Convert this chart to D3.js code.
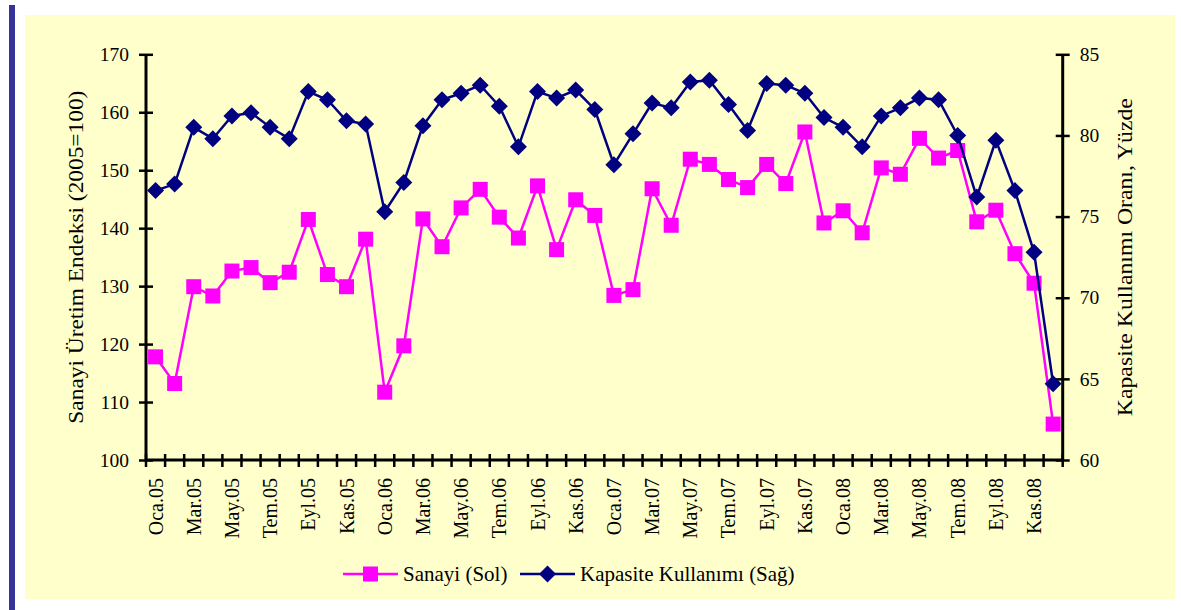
<!DOCTYPE html>
<html>
<head>
<meta charset="utf-8">
<script src="https://cdn.jsdelivr.net/npm/d3@7"></script>
<style>
  html, body { margin: 0; padding: 0; background: #fff; }
  svg text { font-family: "Liberation Serif", "Times New Roman", Times, "DejaVu Serif", serif; fill: #000; }
</style>
</head>
<body>
<div id="chart"></div>
<script>
// Aylar: Oca.05 .. Ara.08
var monthNames = ["Oca", "Şub", "Mar", "Nis", "May", "Haz", "Tem", "Ağu", "Eyl", "Eki", "Kas", "Ara"],
    years      = ["05", "06", "07", "08"];

var months = [];
years.forEach(function(y) {
  monthNames.forEach(function(m) { months.push(m + "." + y); });
});

// Sanayi üretim endeksi (sol eksen)
var sanayi = [
  117.8, 113.2, 129.9, 128.3, 132.6, 133.2, 130.6, 132.4, 141.5, 132.0, 129.9, 138.1,
  111.7, 119.7, 141.6, 136.8, 143.5, 146.7, 141.9, 138.3, 147.3, 136.3, 144.9, 142.2,
  128.4, 129.4, 146.8, 140.5, 151.9, 151.0, 148.4, 147.0, 151.0, 147.7, 156.6, 140.9,
  143.0, 139.2, 150.4, 149.3, 155.5, 152.1, 153.4, 141.1, 143.1, 135.6, 130.5, 106.2
];

// Kapasite kullanım oranı (sağ eksen)
var kapasite = [
  76.6, 77.0, 80.5, 79.8, 81.2, 81.4, 80.5, 79.8, 82.7, 82.2, 80.9, 80.7,
  75.3, 77.1, 80.6, 82.2, 82.6, 83.1, 81.8, 79.3, 82.7, 82.3, 82.8, 81.6,
  78.2, 80.1, 82.0, 81.7, 83.3, 83.4, 81.9, 80.3, 83.2, 83.1, 82.6, 81.1,
  80.5, 79.3, 81.2, 81.7, 82.3, 82.2, 80.0, 76.2, 79.7, 76.6, 72.8, 64.7
];

var leftTicks  = [100, 110, 120, 130, 140, 150, 160, 170],
    rightTicks = [60, 65, 70, 75, 80, 85];

var serif = "'Liberation Serif', 'Times New Roman', Times, 'DejaVu Serif', serif";

var width  = 1181,
    height = 610,
    plot   = {"left": 146, "right": 1062.7, "top": 54.3, "bottom": 460};

var svg = d3.select("#chart")
            .append("svg")
              .attr("width", width)
              .attr("height", height)
              .attr("font-family", serif);

// Arka plan ve soldaki mavi şerit
svg.append("rect")
     .attr("x", 9).attr("y", 5)
     .attr("width", 6).attr("height", height - 5)
     .style("fill", "#333399");
svg.append("rect")
     .attr("x", 25).attr("y", 15)
     .attr("width", 1150).attr("height", 584)
     .style("fill", "#FFFFCC");

var x = d3.scaleBand()
          .domain(months)
          .range([plot.left, plot.right]);

var yLeft = d3.scaleLinear()
              .domain([100, 170])
              .range([plot.bottom, plot.top]);

var yRight = d3.scaleLinear()
               .domain([60, 85])
               .range([plot.bottom, plot.top]);

var cx = function(d, i) { return x(months[i]) + x.bandwidth() / 2; };

// Eksenler
var leftAxis = svg.append("g")
                  .attr("transform", "translate(" + plot.left + ",0)")
                  .call(d3.axisLeft(yLeft).tickValues(leftTicks).tickSize(7).tickPadding(10));

var rightAxis = svg.append("g")
                   .attr("transform", "translate(" + plot.right + ",0)")
                   .call(d3.axisRight(yRight).tickValues(rightTicks).tickSize(7).tickPadding(10));

[leftAxis, rightAxis].forEach(function(g) {
  g.attr("font-family", serif).attr("font-size", null);
  g.select(".domain").attr("d", "M0," + plot.top + "V" + plot.bottom)
   .style("stroke", "#000").style("stroke-width", 3);
  g.selectAll(".tick line")
   .attr("x1", function() { return -d3.select(this).attr("x2"); })
   .style("stroke", "#000").style("stroke-width", 2.5);
  g.selectAll(".tick text")
   .style("font-size", "19.5px");
});

// X ekseni: çizgiler kategori sınırlarında
var xAxis = svg.append("g");
xAxis.append("line")
       .attr("x1", plot.left).attr("x2", plot.right)
       .attr("y1", plot.bottom).attr("y2", plot.bottom)
       .style("stroke", "#000").style("stroke-width", 3);

xAxis.selectAll("line.tick")
     .data(months.concat(["end"]))
     .enter()
     .append("line")
       .attr("class", "tick")
       .attr("x1", function(d, i) { return i < months.length ? x(d) : plot.right; })
       .attr("x2", function(d, i) { return i < months.length ? x(d) : plot.right; })
       .attr("y1", plot.bottom - 6)
       .attr("y2", plot.bottom + 7)
       .style("stroke", "#000").style("stroke-width", 2.5);

xAxis.selectAll("text")
     .data(months.filter(function(d, i) { return i % 2 === 0; }))
     .enter()
     .append("text")
       .attr("transform", function(d) {
         return "translate(" + (x(d) + x.bandwidth() / 2 + 7) + "," + (plot.bottom + 18) + ") rotate(-90)";
       })
       .attr("text-anchor", "end")
       .style("font-size", "20px")
       .text(function(d) { return d; });

// Eksen başlıkları
svg.append("text")
     .attr("transform", "translate(83," + ((plot.top + plot.bottom) / 2) + ") rotate(-90)")
     .attr("text-anchor", "middle")
     .style("font-size", "21px")
     .attr("textLength", 333)
     .attr("lengthAdjust", "spacingAndGlyphs")
     .text("Sanayi Üretim Endeksi (2005=100)");

svg.append("text")
     .attr("transform", "translate(1132," + ((plot.top + plot.bottom) / 2) + ") rotate(-90)")
     .attr("text-anchor", "middle")
     .style("font-size", "21px")
     .attr("textLength", 318)
     .attr("lengthAdjust", "spacingAndGlyphs")
     .text("Kapasite Kullanımı Oranı, Yüzde");

// Seriler
var lineLeft = d3.line()
                 .x(cx)
                 .y(function(d) { return yLeft(d); });

var lineRight = d3.line()
                  .x(cx)
                  .y(function(d) { return yRight(d); });

svg.append("path")
     .datum(sanayi)
     .attr("d", lineLeft)
     .style("fill", "none")
     .style("stroke", "#FF00FF")
     .style("stroke-width", 2.5);

svg.selectAll("rect.sanayi")
   .data(sanayi)
   .enter()
   .append("rect")
     .attr("class", "sanayi")
     .attr("x", function(d, i) { return cx(d, i) - 7.5; })
     .attr("y", function(d) { return yLeft(d) - 7.5; })
     .attr("width", 15).attr("height", 15)
     .style("fill", "#FF00FF");

svg.append("path")
     .datum(kapasite)
     .attr("d", lineRight)
     .style("fill", "none")
     .style("stroke", "#000080")
     .style("stroke-width", 2.5);

var diamond = "M0,-8.5L8.5,0L0,8.5L-8.5,0Z";

svg.selectAll("path.kapasite")
   .data(kapasite)
   .enter()
   .append("path")
     .attr("class", "kapasite")
     .attr("d", diamond)
     .attr("transform", function(d, i) { return "translate(" + cx(d, i) + "," + yRight(d) + ")"; })
     .style("fill", "#000080");

// Lejant
var legend = svg.append("g").attr("transform", "translate(0,574)");

legend.append("line")
        .attr("x1", 343).attr("x2", 398).attr("y1", 0).attr("y2", 0)
        .style("stroke", "#FF00FF").style("stroke-width", 2.5);
legend.append("rect")
        .attr("x", 363).attr("y", -7.5).attr("width", 15).attr("height", 15)
        .style("fill", "#FF00FF");
legend.append("text")
        .attr("x", 403).attr("y", 7)
        .style("font-size", "21px")
        .text("Sanayi (Sol)");

legend.append("line")
        .attr("x1", 520).attr("x2", 575).attr("y1", 0).attr("y2", 0)
        .style("stroke", "#000080").style("stroke-width", 2.5);
legend.append("path")
        .attr("d", diamond)
        .attr("transform", "translate(547.5,0)")
        .style("fill", "#000080");
legend.append("text")
        .attr("x", 580).attr("y", 7)
        .style("font-size", "21px")
        .text("Kapasite Kullanımı (Sağ)");
</script>
</body>
</html>
